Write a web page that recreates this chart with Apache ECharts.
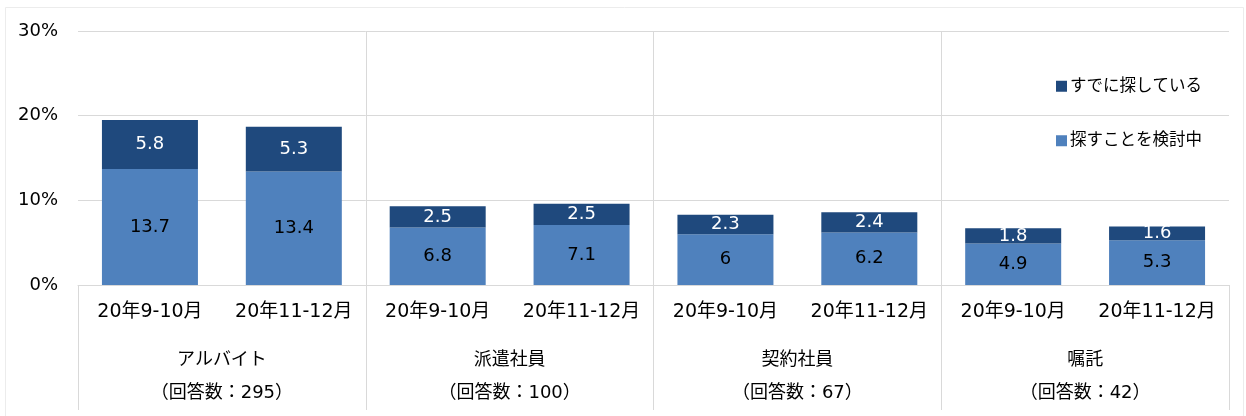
<!DOCTYPE html>
<html>
<head>
<meta charset="utf-8">
<script src="https://cdn.jsdelivr.net/npm/echarts@6/dist/echarts.min.js"></script>
<style>
html,body{margin:0;padding:0;background:#fff;}
#chart{width:1246px;height:416px;}
</style>
</head>
<body>
<div id="chart"></div>
<script>
const periods = ['20年9-10月', '20年11-12月', '20年9-10月', '20年11-12月', '20年9-10月', '20年11-12月', '20年9-10月', '20年11-12月'];
const groups = ['アルバイト\n（回答数：295）', '派遣社員\n（回答数：100）', '契約社員\n（回答数：67）', '嘱託\n（回答数：42）'];
const considering = [13.7, 13.4, 6.8, 7.1, 6, 6.2, 4.9, 5.3];
const searching = [5.8, 5.3, 2.5, 2.5, 2.3, 2.4, 1.8, 1.6];
const seriesNames = ['探すことを検討中', 'すでに探している'];
const yTicks = { min: 0, max: 30, interval: 10 };

const FONT = "'DejaVu Sans', 'Noto Sans CJK JP', sans-serif";
const GRID = '#d9d9d9';

const chart = echarts.init(document.getElementById('chart'));
chart.setOption({
  animation: false,
  backgroundColor: '#fff',
  textStyle: { fontFamily: FONT },
  graphic: [{
    type: 'rect', left: 3, top: 5, z: -10,
    shape: { width: 1238, height: 420 },
    style: { fill: 'none', stroke: '#ececec', lineWidth: 1 }
  }],
  grid: { left: 78, right: 17, top: 31, bottom: 131, containLabel: false },
  legend: {
    orient: 'vertical', left: 1056, top: 78, padding: 0,
    itemWidth: 11, itemHeight: 11, itemGap: 38,
    icon: 'rect',
    data: [seriesNames[1], seriesNames[0]],
    textStyle: { fontSize: 16.5, color: '#000', fontFamily: FONT, padding: [0, 0, 0, -2] }
  },
  xAxis: [{
    type: 'category', data: periods, position: 'bottom',
    axisLine: { show: true, lineStyle: { color: GRID } },
    axisTick: { show: false },
    axisLabel: { fontSize: 19, color: '#000', margin: 18, interval: 0, fontFamily: FONT },
    splitLine: { show: false }
  }, {
    type: 'category', data: groups, position: 'bottom',
    axisLine: { show: false },
    axisTick: { show: true, length: 125, interval: 0, lineStyle: { color: GRID } },
    axisLabel: { fontSize: 18, color: '#000', margin: 59, lineHeight: 33, interval: 0, fontFamily: FONT },
    splitLine: { show: true, showMinLine: false, showMaxLine: false, interval: 0, lineStyle: { color: GRID } }
  }],
  yAxis: {
    type: 'value', min: yTicks.min, max: yTicks.max, interval: yTicks.interval,
    axisLine: { show: false }, axisTick: { show: false },
    axisLabel: { formatter: '{value}%', fontSize: 18, color: '#000', margin: 20, fontFamily: FONT },
    splitLine: { lineStyle: { color: GRID } }
  },
  series: [{
    name: seriesNames[0], type: 'bar', stack: 'a', data: considering,
    barWidth: 96, xAxisIndex: 0,
    itemStyle: { color: '#4F81BD' },
    label: { show: true, position: 'inside', fontSize: 18, color: '#000', fontFamily: FONT }
  }, {
    name: seriesNames[1], type: 'bar', stack: 'a', data: searching,
    barWidth: 96, xAxisIndex: 0,
    itemStyle: { color: '#1F497D' },
    label: { show: true, position: 'inside', fontSize: 18, color: '#fff', fontFamily: FONT }
  }]
});
</script>
</body>
</html>
